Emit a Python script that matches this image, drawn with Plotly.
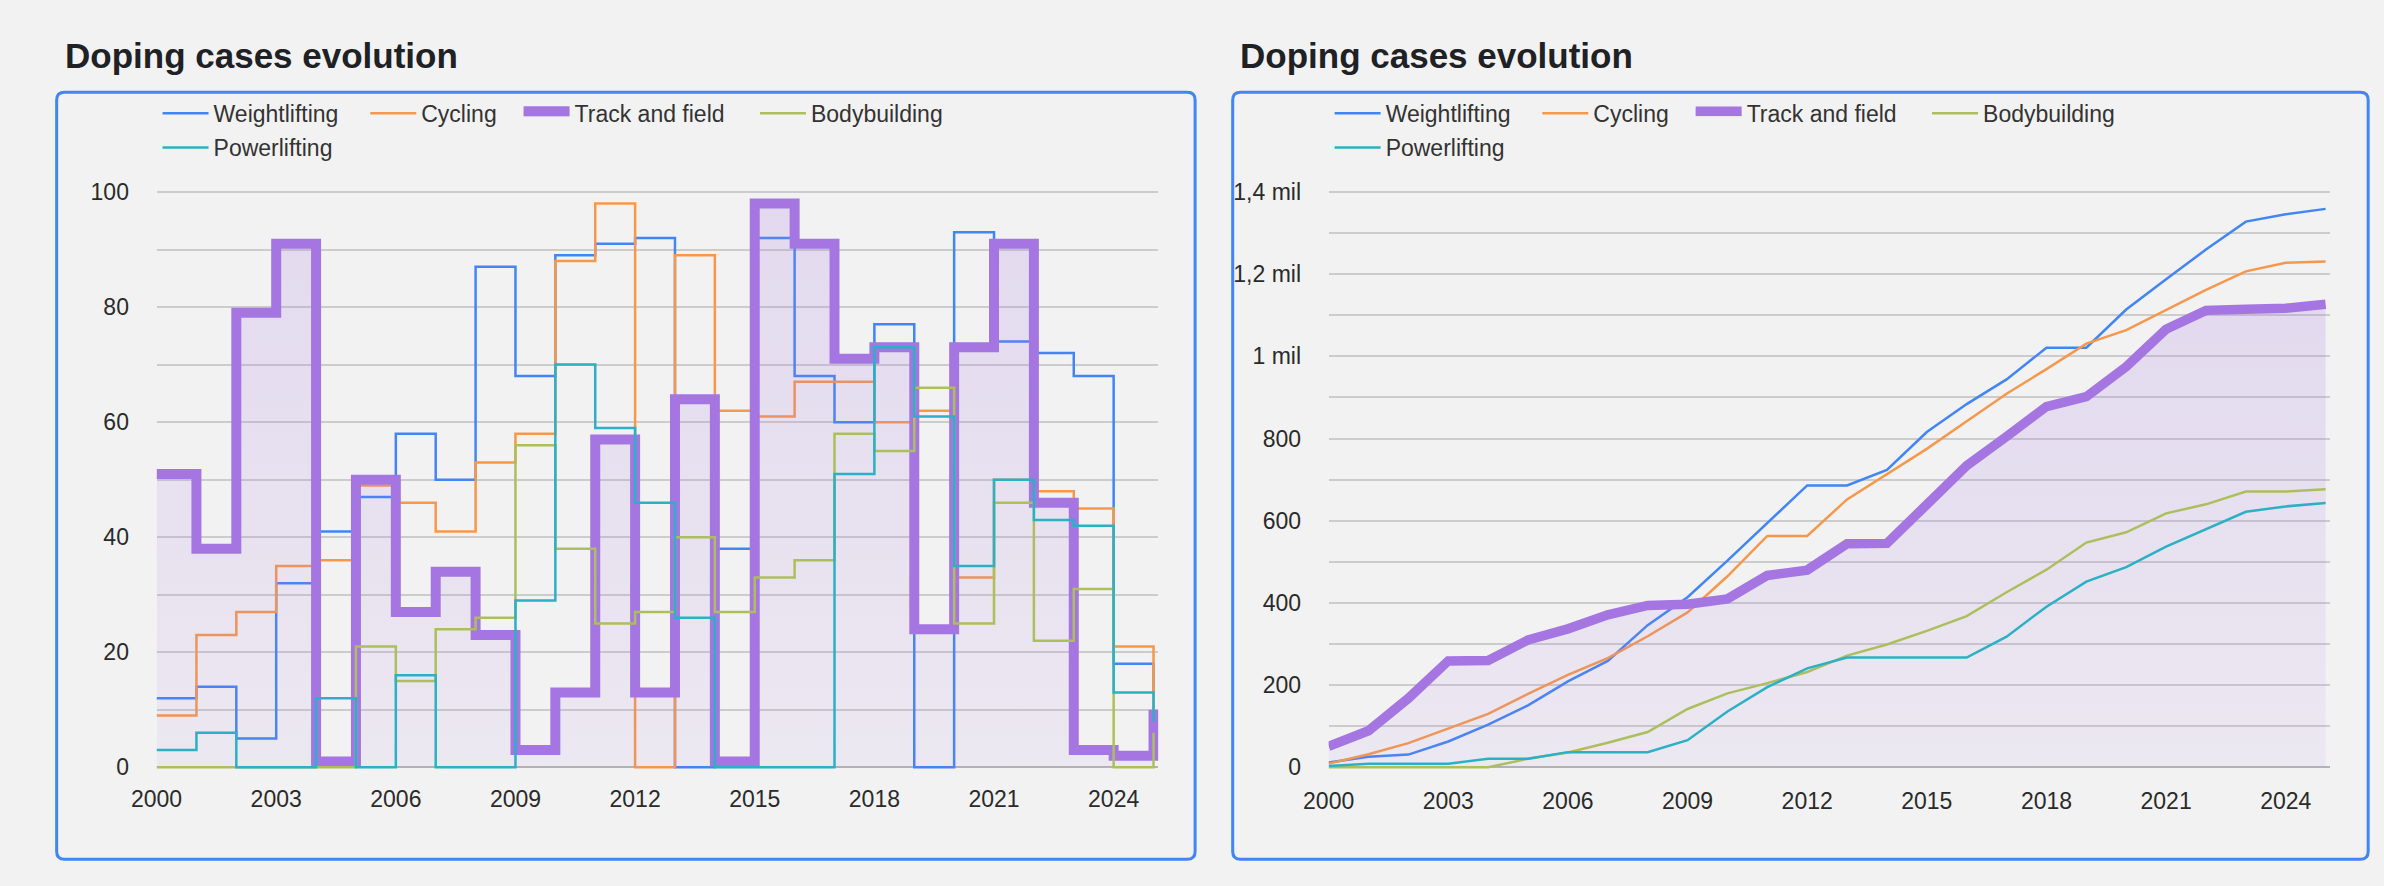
import plotly.graph_objects as go
from itertools import accumulate

# ---------------- data ----------------
years = [2000, 2001, 2002, 2003, 2004, 2005, 2006, 2007, 2008, 2009, 2010, 2011, 2012,
         2013, 2014, 2015, 2016, 2017, 2018, 2019, 2020, 2021, 2022, 2023, 2024, 2025]
weightlifting = [12, 14, 5, 32, 41, 47, 58, 50, 87, 68, 89, 91, 92, 0, 38, 92, 68, 60, 77, 0, 93, 74, 72, 68, 18, 13]
cycling = [9, 23, 27, 35, 36, 49, 46, 41, 53, 58, 88, 98, 0, 89, 62, 61, 67, 67, 60, 62, 33, 50, 48, 45, 21, 3]
track_and_field = [51, 38, 79, 91, 1, 50, 27, 34, 23, 3, 13, 57, 13, 64, 1, 98, 91, 71, 73, 24, 73, 91, 46, 3, 2, 10]
bodybuilding = [0, 0, 0, 0, 0, 21, 15, 24, 26, 56, 38, 25, 27, 40, 27, 33, 36, 58, 55, 66, 25, 46, 22, 31, 0, 6]
powerlifting = [3, 6, 0, 0, 12, 0, 16, 0, 0, 29, 70, 59, 46, 26, 0, 0, 0, 51, 73, 61, 35, 50, 43, 42, 13, 8]

series_names = ["Weightlifting", "Cycling", "Track and field", "Bodybuilding", "Powerlifting"]
series_values = [weightlifting, cycling, track_and_field, bodybuilding, powerlifting]

x_tick_vals = [2000, 2003, 2006, 2009, 2012, 2015, 2018, 2021, 2024]
left_y_ticks = [0, 20, 40, 60, 80, 100]
right_y_ticks = [0, 200, 400, 600, 800, 1000, 1200, 1400]
right_y_labels = ["0", "200", "400", "600", "800", "1 mil", "1,2 mil", "1,4 mil"]
chart_title = "Doping cases evolution"

# ---------------- styles ----------------
W, H = 2384, 886
colors = ["#4285F4", "#F6984C", "#A576E2", "#ADBF5C", "#2BB0C5"]
widths_left = [2.5, 2.5, 10, 2.5, 2.5]
widths_right = [2.5, 2.5, 9.5, 2.5, 2.5]
FONT = "Liberation Sans"
BG = "#f2f2f2"
GRID = "#cccccc"


def px_x(p):
    return p / W


def px_y(p):
    return 1 - p / H


fig = go.Figure()

legend_names_left = ["legend", "legend2", "legend3", "legend4", "legend5"]
legend_names_right = ["legend6", "legend7", "legend8", "legend9", "legend10"]
purple_fill = dict(fill="tozeroy",
                   fillgradient=dict(type="vertical",
                                     colorscale=[[0, "rgba(165,118,226,0.08)"],
                                                 [1, "rgba(165,118,226,0.20)"]]))

for i, (name, vals) in enumerate(zip(series_names, series_values)):
    kw = purple_fill if i == 2 else {}
    fig.add_trace(go.Scatter(
        x=years, y=vals, name=name, mode="lines",
        line=dict(color=colors[i], width=widths_left[i], shape="hv"),
        xaxis="x", yaxis="y", legend=legend_names_left[i], **kw))

for i, (name, vals) in enumerate(zip(series_names, series_values)):
    cum = list(accumulate(vals))
    kw = purple_fill if i == 2 else {}
    fig.add_trace(go.Scatter(
        x=years, y=cum, name=name, mode="lines",
        line=dict(color=colors[i], width=widths_right[i]),
        xaxis="x2", yaxis="y2", legend=legend_names_right[i], **kw))

# ---------------- axes ----------------
xcommon = dict(range=[2000, 2025.12], tickvals=x_tick_vals, showgrid=False, zeroline=False,
               showline=False, ticks="outside", ticklen=8, tickcolor="rgba(0,0,0,0)",
               tickfont=dict(family=FONT, size=23, color="#2a2a2a"))
ycommon = dict(showgrid=True, gridcolor=GRID, gridwidth=2, zeroline=True, zerolinecolor="#b3b3b3",
               zerolinewidth=2, showline=False, ticks="outside", ticklen=22,
               tickcolor="rgba(0,0,0,0)", tickfont=dict(family=FONT, size=23, color="#2a2a2a"))

fig.update_layout(
    xaxis=dict(domain=[px_x(132), px_x(1144.8)], anchor="y", **xcommon),
    xaxis2=dict(domain=[px_x(1317), px_x(2329.8)], anchor="y2", **xcommon),
    yaxis=dict(domain=[px_y(778.5), px_y(183.5)], anchor="x", range=[-0.6, 100.6],
               tickvals=left_y_ticks, minor=dict(dtick=10, showgrid=True, gridcolor=GRID, gridwidth=2),
               **ycommon),
    yaxis2=dict(domain=[px_y(780), px_y(182)], anchor="x2", range=[-12, 1412],
                tickvals=right_y_ticks, ticktext=right_y_labels,
                minor=dict(dtick=100, showgrid=True, gridcolor=GRID, gridwidth=2),
                **ycommon),
)

# ---------------- legends ----------------
sym_left = [138, 348, 503, 742, 138]
rows = [106.5, 106.5, 106.5, 106.5, 141.5]
LEG_OFF = 5
legend_layout = {}
for i in range(5):
    base = dict(orientation="h", bgcolor="rgba(0,0,0,0)", borderwidth=0,
                font=dict(family=FONT, size=23, color="#333"), itemwidth=46,
                xanchor="left", yanchor="middle", y=px_y(rows[i]))
    legend_layout[legend_names_left[i]] = dict(base, x=px_x(sym_left[i] - LEG_OFF))
    legend_layout[legend_names_right[i]] = dict(base, x=px_x(sym_left[i] + 1185 - LEG_OFF))
fig.update_layout(**legend_layout)

# ---------------- boxes and titles ----------------


def rounded_box(x0, y0, x1, y1, r):
    def P(x, y):
        return f"{px_x(x):.6f},{px_y(y):.6f}"
    path = (f"M {P(x0 + r, y0)} L {P(x1 - r, y0)} Q {P(x1, y0)} {P(x1, y0 + r)} "
            f"L {P(x1, y1 - r)} Q {P(x1, y1)} {P(x1 - r, y1)} "
            f"L {P(x0 + r, y1)} Q {P(x0, y1)} {P(x0, y1 - r)} "
            f"L {P(x0, y0 + r)} Q {P(x0, y0)} {P(x0 + r, y0)} Z")
    return dict(type="path", xref="paper", yref="paper", path=path,
                line=dict(color="#4285F4", width=3), fillcolor="rgba(0,0,0,0)", layer="below")


fig.update_layout(shapes=[rounded_box(31, 85, 1182, 869, 8), rounded_box(1220, 85, 2368, 869, 8)])

fig.update_layout(annotations=[
    dict(text=f"<b>{chart_title}</b>", x=px_x(37), y=px_y(48), xref="paper", yref="paper",
         xanchor="left", yanchor="middle", showarrow=False,
         font=dict(family=FONT, size=35, color="#202124")),
    dict(text=f"<b>{chart_title}</b>", x=px_x(1225), y=px_y(48), xref="paper", yref="paper",
         xanchor="left", yanchor="middle", showarrow=False,
         font=dict(family=FONT, size=35, color="#202124")),
])

fig.update_layout(width=W, height=H, margin=dict(l=0, r=0, t=0, b=0),
                  paper_bgcolor=BG, plot_bgcolor="rgba(0,0,0,0)", showlegend=True,
                  font=dict(family=FONT))

fig.write_html("out.html",
               config={"displayModeBar": False},
               post_script="document.body.style.margin='0';document.body.style.overflow='hidden';"
                           "document.body.style.background='#f2f2f2';")
